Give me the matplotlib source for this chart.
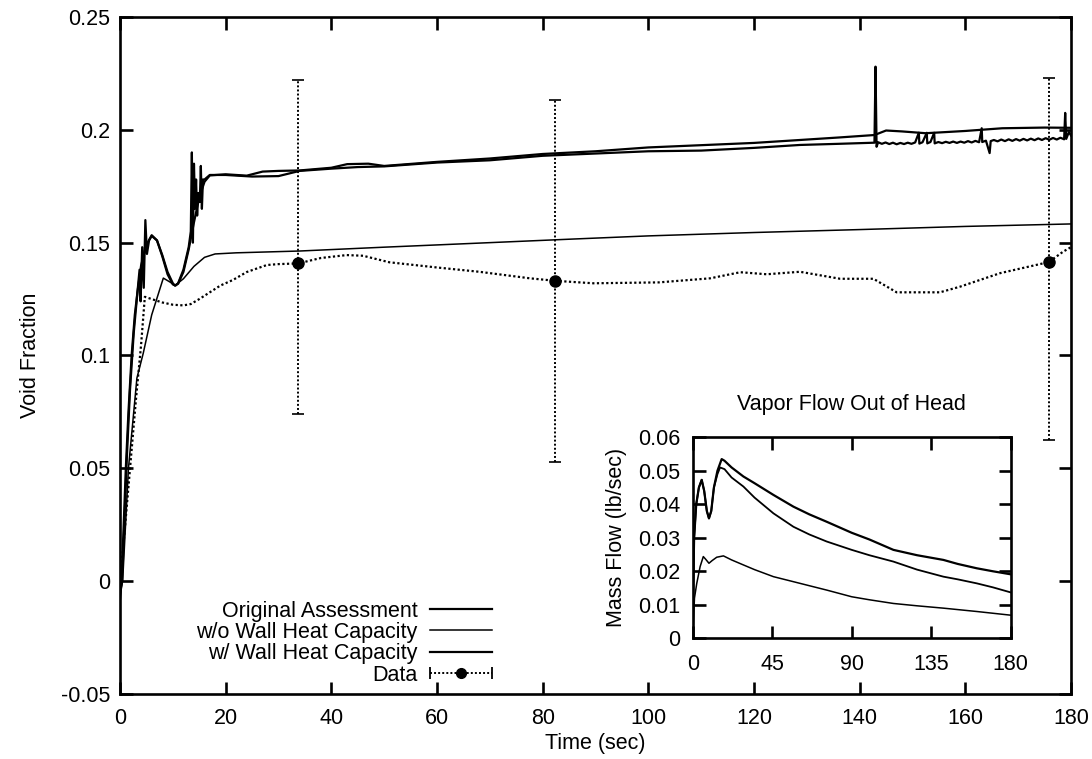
import matplotlib
matplotlib.use("Agg")
import matplotlib.pyplot as plt
from matplotlib.legend_handler import HandlerBase
from matplotlib.lines import Line2D
from matplotlib.ticker import FormatStrFormatter

plt.rcParams['font.family'] = ['Liberation Sans', 'DejaVu Sans']

# --- Void fraction in the head (main plot) ---
orig_t = [0, 0.4, 0.9, 1.3, 1.9, 2.6, 3.3, 4.0, 5.0, 6.0, 7.0, 8.0, 9.0, 10.0, 10.4,
          11.0, 12.0, 13.0, 14.0, 15.0, 16.0, 17.0, 20, 24, 27, 30, 34, 40, 43, 47,
          50, 60, 70, 80, 90, 100, 110, 120, 128.7, 136, 142.8, 145, 148, 152.5,
          160, 167, 175, 180]
orig_void = [-0.006, 0.0, 0.03, 0.055, 0.085, 0.11, 0.128, 0.14, 0.149, 0.1533,
             0.151, 0.1445, 0.137, 0.132, 0.131, 0.1318, 0.137, 0.147, 0.159, 0.17,
             0.177, 0.1798, 0.1803, 0.1797, 0.1815, 0.1818, 0.182, 0.1832, 0.1848,
             0.185, 0.184, 0.1858, 0.1873, 0.1893, 0.1905, 0.1922, 0.1932, 0.1942,
             0.1955, 0.1966, 0.1977, 0.1997, 0.1993, 0.1985, 0.1995, 0.2007, 0.201,
             0.2009]

nowall_t = [0, 0.5, 1.6, 3.2, 4.4, 6.0, 8.2, 9.5, 10.4, 12, 14, 16, 18, 22, 34, 50,
            60, 85.7, 100, 120, 140, 160, 180]
nowall_void = [-0.005, 0.0, 0.05, 0.09, 0.101, 0.118, 0.1343, 0.1325, 0.131, 0.134,
               0.1395, 0.1435, 0.145, 0.1455, 0.1463, 0.148, 0.149, 0.1516, 0.153,
               0.1545, 0.1558, 0.1572, 0.1583]

wall_t = [0, 0.3, 0.7, 1.1, 1.6, 2.2, 2.8, 3.3, 3.7, 3.9, 4.2, 4.5, 4.8, 5.1,
          5.5, 6.0, 7.0, 8.0, 9.0, 10.0, 10.5, 11.0, 12.0, 13.0, 13.4, 13.6,
          13.8, 14.0, 14.2, 14.4, 14.6, 14.8, 15.1, 15.3, 15.5, 15.7, 16.0, 17.0,
          20, 25, 30, 34, 40, 45, 50, 60, 70, 80, 90, 100, 110, 120, 128.7, 136,
          142.8, 143.0, 143.2, 143.5, 144.2, 144.9, 145.6, 146.3, 147.0, 147.7,
          148.4, 149.1, 149.8, 150.5, 151.2, 151.3, 151.9, 152.7, 152.8, 153.4,
          154.1, 154.2, 154.9, 155.6, 156.3, 157.0, 157.7, 158.4, 159.1, 159.8,
          160.5, 161.2, 161.9, 162.6, 163.1, 163.2, 163.9, 164.6, 164.8, 165.4,
          166.1, 166.8, 167.5, 168.2, 168.9, 169.6, 170.3, 171.0, 171.7, 172.4,
          173.1, 173.8, 174.5, 175.2, 175.9, 176.6, 177.3, 178.0, 178.7, 178.9,
          179.1, 179.6, 180]
wall_void = [-0.008, 0.0, 0.025, 0.05, 0.075, 0.1, 0.118, 0.128, 0.138, 0.124,
             0.148, 0.13, 0.16, 0.145, 0.151, 0.153, 0.151, 0.144, 0.136,
             0.1315, 0.131, 0.132, 0.138, 0.148, 0.155, 0.19, 0.15, 0.185, 0.165,
             0.178, 0.162, 0.172, 0.168, 0.184, 0.165, 0.178, 0.178, 0.18, 0.18,
             0.1793, 0.1795, 0.1818, 0.1828, 0.1835, 0.1838, 0.1855, 0.1865, 0.1885,
             0.1895, 0.1905, 0.1908, 0.192, 0.1933, 0.1938, 0.1943, 0.228, 0.1925,
             0.1945, 0.1938, 0.1944, 0.1937, 0.1943, 0.1936, 0.1942, 0.1937, 0.1943,
             0.1938, 0.1944, 0.1987, 0.1939, 0.1945, 0.1987, 0.194, 0.1946, 0.1987,
             0.194, 0.1946, 0.1941, 0.1947, 0.1942, 0.1948, 0.1942, 0.1948, 0.1943,
             0.195, 0.1944, 0.1951, 0.1945, 0.2007, 0.1946, 0.1952, 0.1897, 0.195,
             0.1955, 0.1949, 0.1957, 0.195, 0.1958, 0.1951, 0.1959, 0.1952, 0.196,
             0.1953, 0.1961, 0.1954, 0.1962, 0.1955, 0.1963, 0.1956, 0.1964, 0.1957,
             0.1965, 0.1958, 0.2075, 0.196, 0.199, 0.1975]

data_t = [0, 0.8, 1.9, 3, 4, 4.7, 6, 8, 10, 12, 13.4, 15, 17, 19, 21.4, 24, 27.8, 30,
          33.75, 38, 42.9, 46, 51, 60, 68, 77.6, 82.4, 89.6, 102, 111.7, 117.4,
          122.4, 128.7, 136.3, 142.6, 147, 155.2, 159, 166.6, 175.8, 178.5, 180]
data_void = [0.0, 0.02, 0.05, 0.08, 0.105, 0.126, 0.125, 0.1235, 0.1225, 0.1222,
             0.1228, 0.125, 0.128, 0.131, 0.1335, 0.137, 0.1401, 0.1405, 0.1408,
             0.1432, 0.1445, 0.1442, 0.1413, 0.139, 0.1371, 0.1342, 0.1331, 0.132,
             0.1324, 0.1342, 0.1369, 0.136, 0.1371, 0.134, 0.134, 0.128, 0.128,
             0.1305, 0.1365, 0.1414, 0.146, 0.148]

# measured points with uncertainty band
meas_t = [33.75, 82.4, 175.8]
meas_void = [0.1408, 0.1331, 0.1414]
meas_low = [0.074, 0.0527, 0.0625]
meas_high = [0.222, 0.213, 0.223]

# --- Vapor flow out of head (inset) ---
flow_t_a = [0, 0.8, 2, 3.5, 5.1, 6.5, 8, 9.2, 10.5, 12, 14, 16.4, 18, 22, 28.7, 35,
            45.7, 57, 66, 75.8, 90, 100, 113.6, 127, 141.9, 150, 160.8, 170, 180]
flow_a = [0.008, 0.03, 0.04, 0.045, 0.0473, 0.044, 0.038, 0.0358, 0.038, 0.045,
          0.05, 0.0535, 0.053, 0.051, 0.0483, 0.0463, 0.0428, 0.0393, 0.037,
          0.0348, 0.0315, 0.0295, 0.0264, 0.0248, 0.0234, 0.0222, 0.0209, 0.02,
          0.0191]
flow_t_b = [0, 0.8, 2, 3.5, 5.1, 6.5, 8, 9.2, 10.5, 12, 14, 15.5, 18, 22, 28.7, 35,
            45.7, 57, 66, 75.8, 90, 100, 113.6, 127, 141.9, 150, 160.8, 170, 180]
flow_b = [0.008, 0.03, 0.04, 0.045, 0.0473, 0.044, 0.038, 0.0358, 0.038, 0.045,
          0.049, 0.051, 0.0505, 0.048, 0.0453, 0.042, 0.0373, 0.0333, 0.031,
          0.0289, 0.0264, 0.0248, 0.0229, 0.0205, 0.0184, 0.0176, 0.0164, 0.0152,
          0.0137]
flow_t_c = [0, 1, 2.3, 4.2, 6, 7.5, 9.2, 11, 13.6, 17.4, 22, 28.7, 35, 45.7, 57, 66,
            75.8, 90, 100, 113.6, 127, 141.9, 160.8, 180]
flow_c = [0.0, 0.012, 0.0164, 0.0214, 0.0244, 0.0235, 0.0224, 0.0232, 0.0242,
          0.0246, 0.0234, 0.0219, 0.0205, 0.0184, 0.0169, 0.0157, 0.0144, 0.0124,
          0.0115, 0.0104, 0.0097, 0.009, 0.008, 0.0069]

DOTS = (0, (1, 1.1))
FS = 15.5


class DataBarHandler(HandlerBase):
    """Legend key drawn as a dotted bar with end caps and a centre point."""
    def create_artists(self, legend, orig_handle, xdescent, ydescent, width,
                       height, fontsize, trans):
        y = height / 2 - ydescent
        x0, x1 = -xdescent, width - xdescent
        line = Line2D([x0, x1], [y, y], color='black', lw=1.4, linestyle=DOTS)
        caps = Line2D([x0, x1], [y, y], color='black', lw=0, marker='|',
                      markersize=8, markeredgewidth=1.3)
        dot = Line2D([(x0 + x1) / 2], [y], color='black', marker='o',
                     markersize=7, lw=0)
        for a in (line, caps, dot):
            a.set_transform(trans)
        return [line, caps, dot]


def style_frame(ax, pad_x, pad_y):
    for s in ax.spines.values():
        s.set_linewidth(1.9)
    ax.tick_params(direction='in', top=True, right=True, length=9, width=1.9,
                   labelsize=FS)
    ax.tick_params(axis='x', pad=pad_x)
    ax.tick_params(axis='y', pad=pad_y)


fig = plt.figure(figsize=(10.92, 7.59), dpi=100)
ax = fig.add_axes([120 / 1092, 65 / 759, 951 / 1092, 677 / 759])

l_orig, = ax.plot(orig_t, orig_void, color='black', lw=1.6)
l_nowall, = ax.plot(nowall_t, nowall_void, color='black', lw=1.1)
l_wall, = ax.plot(wall_t, wall_void, color='black', lw=1.6)
ax.plot(data_t, data_void, color='black', lw=1.6, linestyle=DOTS)
err_lo = [v - lo for v, lo in zip(meas_void, meas_low)]
err_hi = [hi - v for v, hi in zip(meas_void, meas_high)]
eb = ax.errorbar(meas_t, meas_void, yerr=[err_lo, err_hi], fmt='o', color='black',
                 markersize=8, capsize=4, capthick=1.2, elinewidth=1.4)
eb[2][0].set_linestyle(DOTS)

ax.set_xlim(0, 180)
ax.set_ylim(-0.05, 0.25)
ax.set_xticks(range(0, 181, 20))
ax.set_yticks([-0.05, 0, 0.05, 0.1, 0.15, 0.2, 0.25])
ax.set_yticklabels(['-0.05', '0', '0.05', '0.1', '0.15', '0.2', '0.25'])
style_frame(ax, 10, 7)
ax.set_xlabel('Time (sec)', fontsize=FS, labelpad=3)
ax.set_ylabel('Void Fraction', fontsize=FS, labelpad=14)

data_proxy = Line2D([], [])
ax.legend([l_orig, l_nowall, l_wall, data_proxy],
          ['Original Assessment', 'w/o Wall Heat Capacity',
           'w/ Wall Heat Capacity', 'Data'],
          handler_map={data_proxy: DataBarHandler()},
          loc='lower right', bbox_to_anchor=((492 - 120) / 951, 0.012),
          frameon=False, markerfirst=False, fontsize=FS, handlelength=2.9,
          handletextpad=0.55, labelspacing=0.02, borderpad=0, borderaxespad=0)

# inset: vapor mass flow leaving the head
ins = fig.add_axes([692.7 / 1092, (759 - 638.3) / 759, 318 / 1092, 201 / 759])
ins.plot(flow_t_a, flow_a, color='black', lw=1.6)
ins.plot(flow_t_b, flow_b, color='black', lw=1.3)
ins.plot(flow_t_c, flow_c, color='black', lw=1.1)
ins.set_xlim(0, 180)
ins.set_ylim(0, 0.06)
ins.set_xticks([0, 45, 90, 135, 180])
ins.set_yticks([0, 0.01, 0.02, 0.03, 0.04, 0.05, 0.06])
ins.yaxis.set_major_formatter(FormatStrFormatter('%g'))
style_frame(ins, 11, 9)
ins.set_title('Vapor Flow Out of Head', fontsize=FS, pad=20)
ins.set_ylabel('Mass Flow (lb/sec)', fontsize=FS, labelpad=8)

fig.savefig('out.png', dpi=100)
